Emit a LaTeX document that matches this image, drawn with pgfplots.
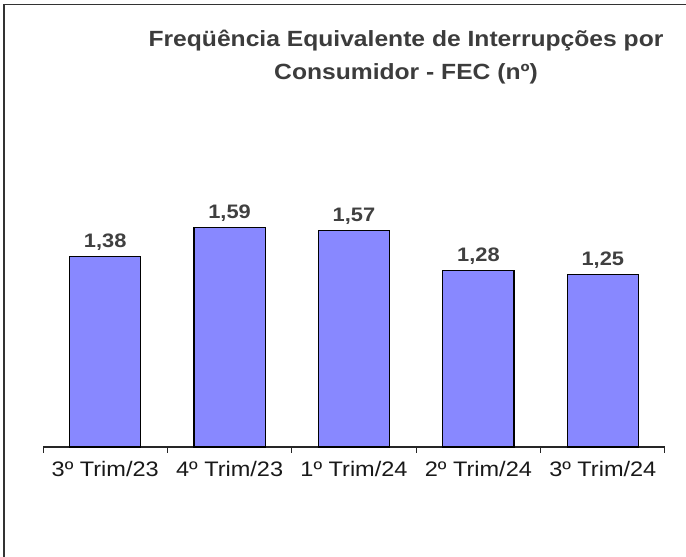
\documentclass[border=0pt]{standalone}
\usepackage{pgfplots}
\pgfplotsset{compat=1.18}
\usepackage{fontspec}
\setmainfont{Liberation Sans}[FakeStretch=1.12]
\definecolor{barblue}{RGB}{136,136,255}
\definecolor{titlegray}{RGB}{60,60,60}
\definecolor{valgray}{RGB}{64,64,64}
\begin{document}
\begin{tikzpicture}[x=1pt,y=1pt]
\useasboundingbox (0,0) rectangle (686,557);
\draw[line width=1.5pt, color=black!80] (4,-5) -- (4,552.5) -- (691,552.5);
\node[anchor=base, font=\bfseries\fontsize{22}{26}\selectfont, text=titlegray, inner sep=0pt] at (406,510) {Freqüência Equivalente de Interrupções por};
\node[anchor=base, font=\bfseries\fontsize{22}{26}\selectfont, text=titlegray, inner sep=0pt] at (406,477) {Consumidor - FEC (nº)};
\begin{axis}[
  at={(43pt,110pt)}, anchor=south west,
  scale only axis, width=622pt, height=345pt,
  xmin=-0.5, xmax=4.5, ymin=0, ymax=2.5,
  axis x line*=bottom, axis y line=none,
  axis line style={line width=1.2pt, black!85},
  xtick={0,1,2,3,4},
  xticklabels={3º Trim/23,4º Trim/23,1º Trim/24,2º Trim/24,3º Trim/24},
  major tick length=0pt,
  extra x ticks={-0.5,0.5,1.5,2.5,3.5,4.5},
  extra x tick labels={},
  extra x tick style={major tick length=6pt, tick align=outside, tick style={line width=1pt, black!85}},
  xticklabel style={font=\fontsize{21}{25}\selectfont, text=black!90, yshift=-11pt},
  ybar, bar width=0.571,
  nodes near coords,
  nodes near coords style={font=\bfseries\fontsize{19.5}{23}\selectfont, text=valgray, anchor=base, yshift=9pt, inner sep=0pt,
    /pgf/number format/.cd, use comma, fixed, fixed zerofill, precision=2, assume math mode=true},
  clip=false,
]
\addplot[fill=barblue, draw=black, line width=1.2pt] coordinates {(0,1.38) (1,1.59) (2,1.57) (3,1.28) (4,1.25)};
\end{axis}
\end{tikzpicture}
\end{document}
